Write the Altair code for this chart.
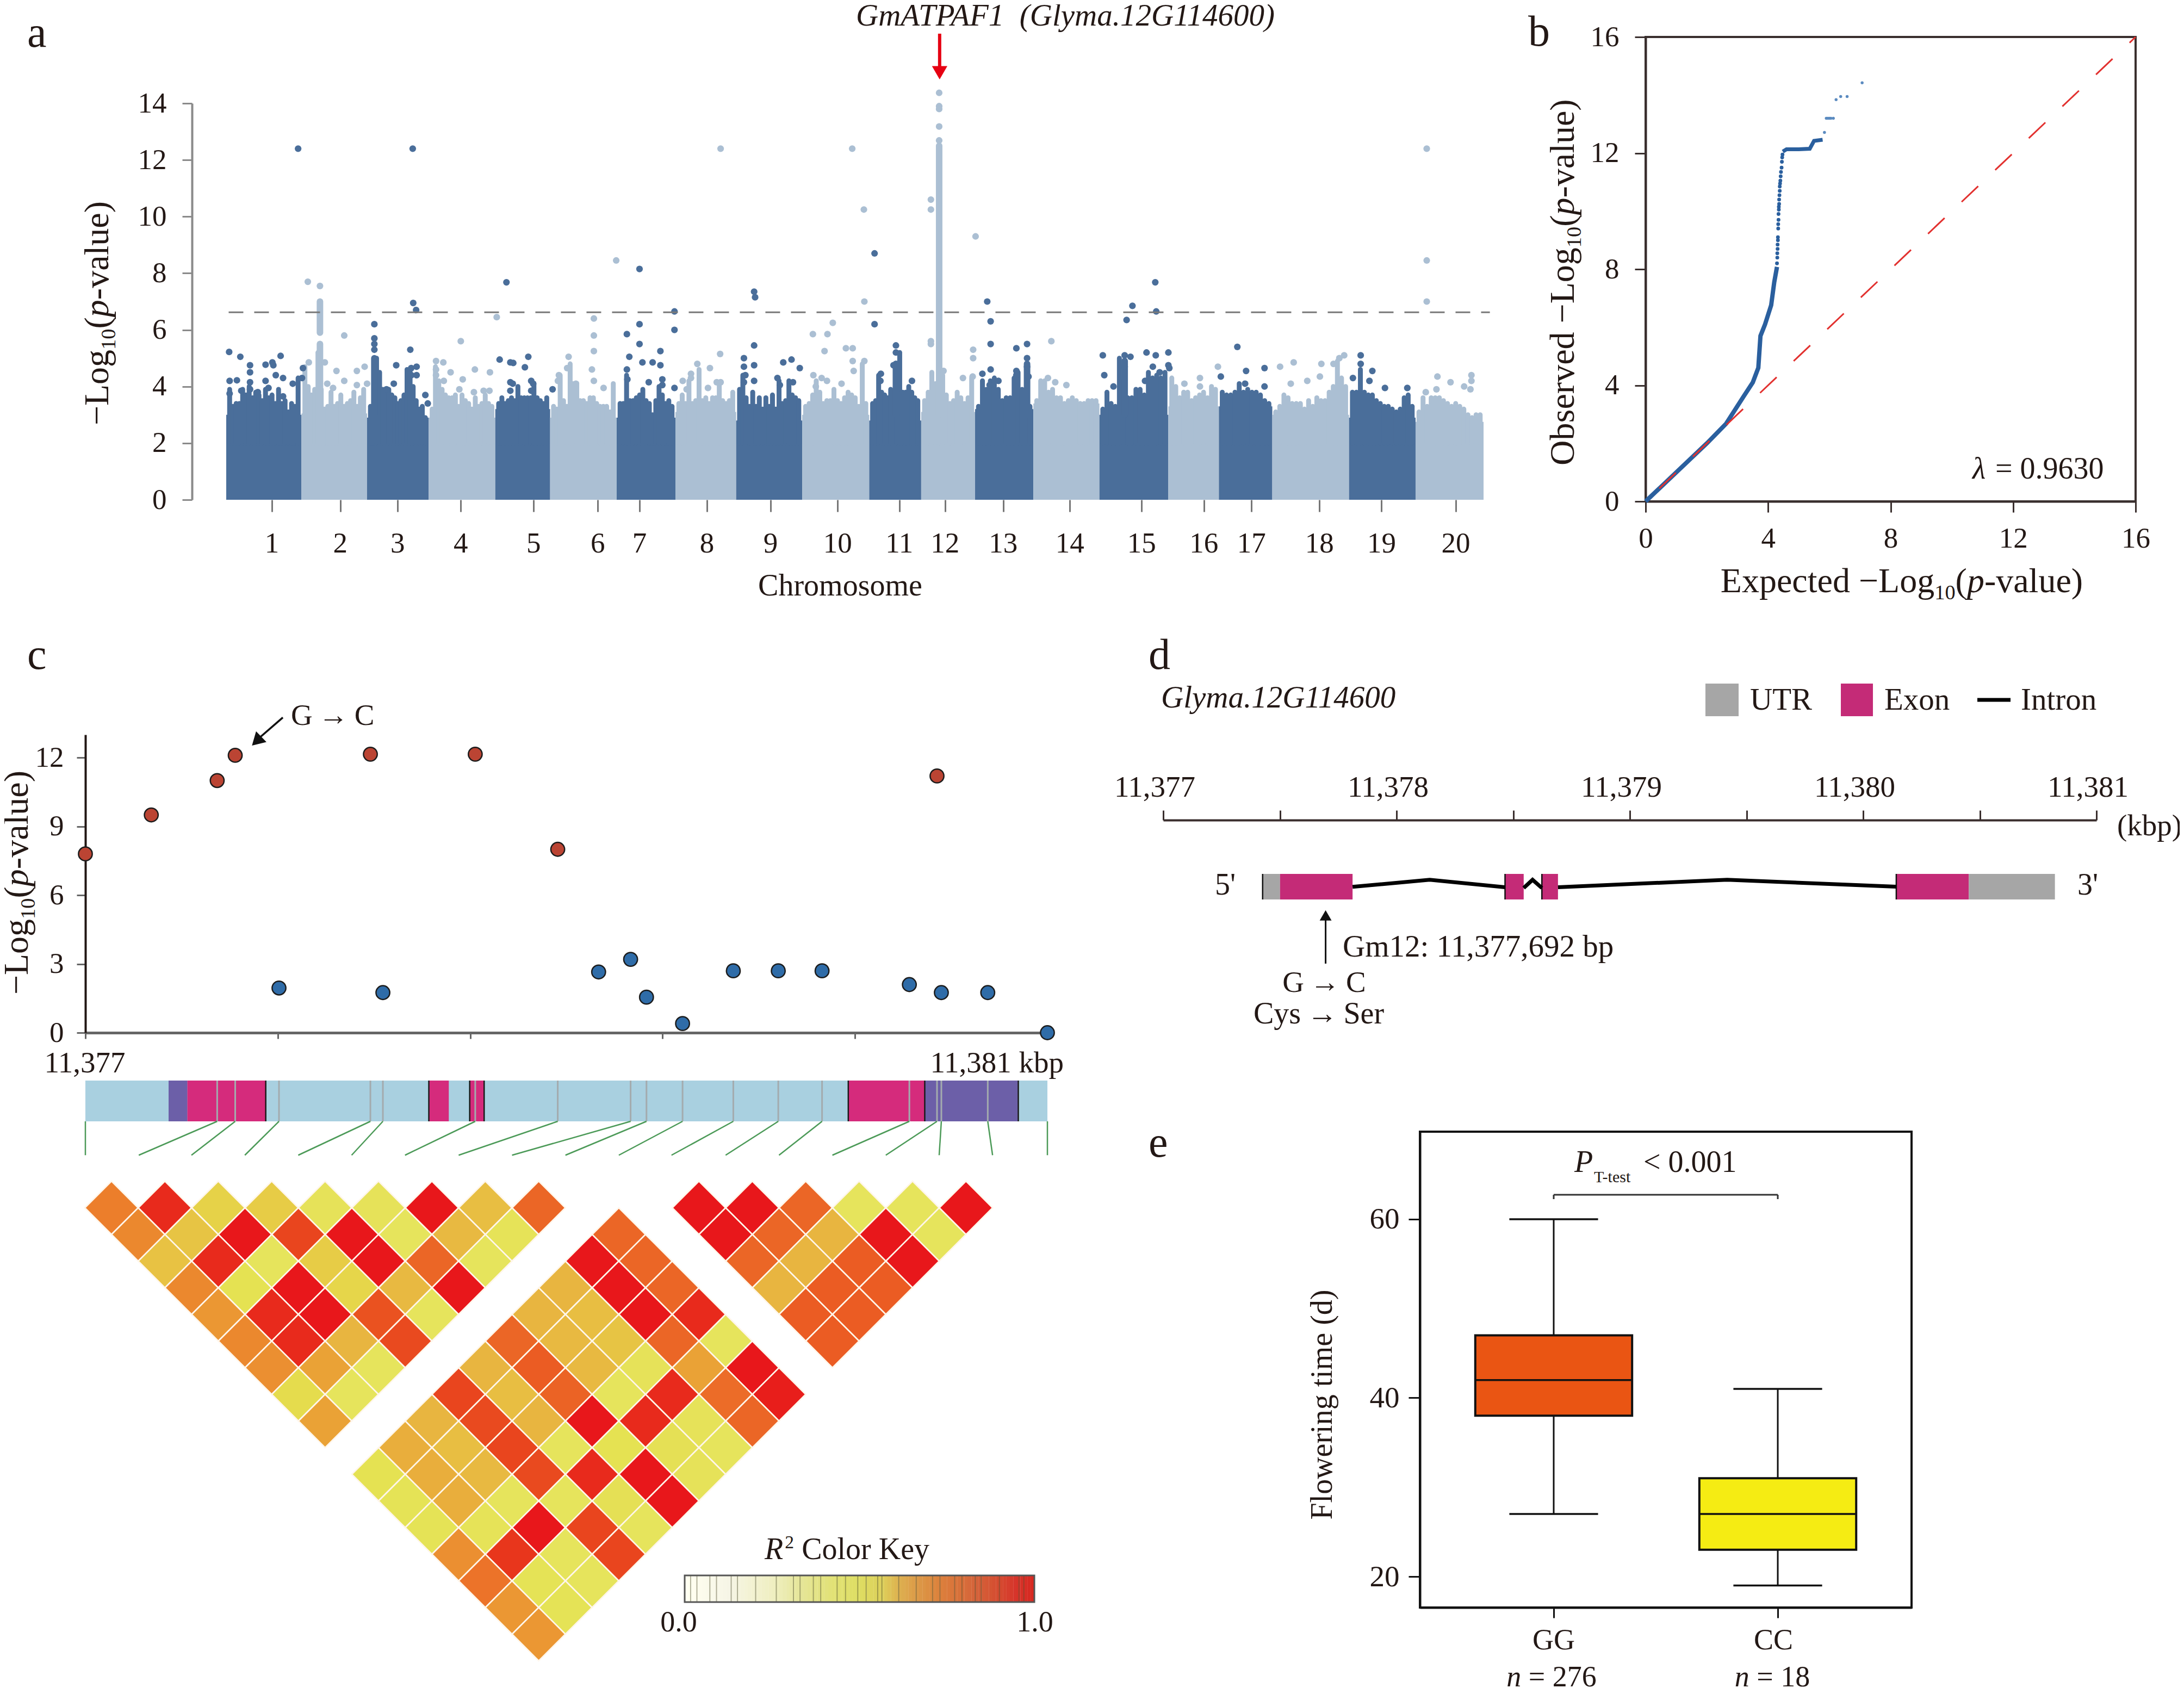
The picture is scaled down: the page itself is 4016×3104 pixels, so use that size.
import altair as alt
import numpy as np
import pandas as pd

W, H = 4000, 3096
SERIF = "Liberation Serif"
INK = "#231815"
DARK, LIGHT = "#4A6E9A", "#ABBFD3"

# ---------- panel a: Manhattan ----------
chrom_bounds = [320, 475, 610, 737, 874, 987, 1124, 1245, 1370, 1506, 1644, 1751,
                1862, 1982, 2118, 2260, 2364, 2474, 2632, 2769, 2909]
chrom_ticks = [414, 555, 673, 803, 953, 1085, 1171, 1310, 1441, 1579, 1706, 1800,
               1920, 2057, 2205, 2333, 2431, 2571, 2699, 2852]
chrom_labels = [str(i) for i in range(1, 21)]
chrom_solid = [3.0, 3.05, 2.9, 2.9, 3.2, 2.9, 2.9, 3.1, 2.8, 3.0, 2.8, 3.1, 3.2, 3.4, 3.0, 3.3, 3.3, 3.0, 2.9, 2.75]
chrom_tops = [
    [3.9, 3.3, 3.4, 3.4, 3.9, 3.7, 4.0, 3.6, 3.8, 3.7, 3.5, 3.9, 3.6, 3.7, 3.4, 3.9, 3.4, 3.5, 3.1, 3.4, 3.3, 4.3],
    [4.7, 4.0, 3.7, 3.9, 5.2, 3.9, 3.2, 3.3, 3.8, 3.3, 3.4, 3.7, 3.3, 3.4, 3.5, 3.8, 3.3, 3.6, 3.9],
    [3.3, 3.3, 5.0, 4.5, 3.9, 3.8, 3.9, 3.7, 3.6, 3.4, 3.5, 3.7, 4.6, 4.6, 4.0, 3.5, 3.2, 3.3, 2.9],
    [3.2, 4.7, 4.2, 3.9, 3.7, 3.6, 3.6, 3.7, 3.3, 3.7, 3.5, 3.4, 3.2, 3.6, 3.3, 3.4, 3.7, 3.4, 3.3],
    [3.4, 3.6, 3.4, 3.5, 3.6, 3.5, 4.0, 3.6, 3.6, 3.6, 3.6, 4.1, 3.6, 3.5, 3.4, 3.6],
    [3.3, 3.2, 4.4, 3.5, 3.3, 4.8, 4.1, 4.1, 3.5, 3.5, 3.4, 3.6, 3.6, 3.4, 3.3, 3.3, 3.3, 3.1, 4.1],
    [3.4, 3.4, 4.4, 3.5, 3.5, 3.6, 3.7, 3.9, 3.5, 3.4, 3.0, 3.5, 4.0, 3.7, 3.4, 3.5, 3.3],
    [3.4, 3.7, 3.4, 4.2, 3.4, 3.5, 4.6, 3.5, 3.6, 3.4, 3.6, 3.6, 4.1, 3.5, 3.4, 3.5, 3.8],
    [3.9, 4.4, 3.6, 3.3, 3.8, 3.3, 3.6, 3.2, 3.6, 3.3, 3.7, 3.2, 4.2, 3.4, 3.5, 4.2, 3.7, 3.6, 3.5],
    [3.3, 3.4, 3.7, 4.2, 3.8, 3.4, 3.5, 3.5, 3.9, 3.5, 3.4, 3.6, 3.8, 3.7, 3.6, 3.3, 4.8, 3.4],
    [3.4, 3.5, 4.4, 3.8, 3.7, 3.6, 3.9, 3.7, 4.0, 5.2, 3.8, 3.8, 4.0, 3.8, 3.6, 3.5],
    [3.5, 3.8, 4.5, 4.1, 5.0, 4.4, 3.7, 3.4, 3.5, 3.8, 3.6, 3.4, 3.6, 4.3],
    [3.3, 4.2, 3.9, 4.2, 4.3, 3.9, 3.5, 3.6, 3.6, 4.3, 4.5, 3.9, 3.6, 3.3],
    [3.5, 4.2, 4.2, 3.8, 3.9, 3.6, 3.6, 3.4, 3.5, 3.6, 3.5, 3.4, 3.4, 3.5, 3.5, 3.5],
    [3.2, 3.8, 3.4, 3.3, 5.0, 4.2, 3.6, 3.6, 3.9, 3.9, 3.7, 4.5, 4.3, 4.4, 4.3, 4.5],
    [4.3, 4.0, 3.6, 3.8, 3.8, 3.5, 3.6, 3.7, 3.8, 3.6, 4.0, 3.9],
    [3.8, 3.7, 3.7, 3.8, 4.1, 3.8, 3.9, 3.8, 3.8, 3.7, 3.5, 3.4],
    [3.1, 3.3, 3.7, 3.6, 3.4, 3.4, 3.4, 3.2, 3.5, 3.3, 3.6, 3.5, 3.5, 3.8, 4.0, 4.9, 4.3, 4.0],
    [3.8, 3.8, 4.6, 3.8, 3.7, 3.7, 3.5, 3.4, 3.3, 3.3, 3.2, 3.1, 3.2, 3.6, 3.7, 3.3],
    [3.1, 3.6, 3.3, 3.6, 3.6, 3.6, 3.5, 3.4, 3.3, 3.4, 3.3, 3.2, 3.0, 2.9, 3.0, 3.0],
]
col_pos = [513, 513, 1788, 625, 2170, 1699, 1969]
col_lo = [5.9, 3.0, 3.0, 3.0, 3.0, 3.0, 3.0]
col_hi = [7.0, 5.5, 12.5, 5.0, 4.9, 4.8, 4.8]
col_shade = ["l", "l", "l", "d", "d", "d", "d"]
dark_pos = [468, 704, 705, 711, 625, 625, 625, 625, 699, 897, 1171, 1171, 1145, 1171, 1150, 1214, 1243, 1243, 1407, 1409, 1407,
            1655, 1655, 1887, 1894, 1894, 2125, 2186, 2174, 2233, 2235, 2215, 2234, 2260, 2260, 2402, 2656,
            326, 349, 327, 342, 327, 351, 369, 369, 369, 369, 401, 415, 417, 432, 401, 407, 422, 437, 457, 478, 476, 385, 437,
            670, 701, 712, 701, 712, 730, 735, 665, 650,
            883, 905, 911, 935, 942, 905, 910, 948, 952, 905, 948, 992,
            1145, 1177, 1198, 1214, 1146, 1190, 1218, 1218, 1243,
            1386, 1386, 1389, 1407, 1407, 1386, 1467, 1484, 1501, 1455, 1487, 1460,
            1699, 1699, 1694, 1668, 1667, 1732,
            1947, 1969, 1969, 1969, 1947, 1947, 1894, 1877, 1910, 1892, 1972,
            2128, 2147, 2170, 2170, 2182, 2228, 2262, 2242, 2212,
            2458, 2420, 2368, 2418, 2458, 2656, 2680, 2674, 2640, 2706, 2752]
dark_val = [12.4, 12.4, 6.95, 6.7, 6.2, 5.7, 5.5, 5.3, 5.3, 7.68, 8.15, 6.2, 5.85, 5.5, 5.05, 5.25, 6.65, 6.0, 7.35, 7.15, 5.45,
            8.7, 6.2, 7.0, 6.3, 5.5, 5.1, 6.85, 6.35, 7.68, 6.65, 5.2, 5.1, 5.2, 4.75, 5.4, 5.1,
            5.22, 5.05, 4.2, 4.22, 3.75, 3.85, 4.75, 4.5, 4.15, 3.9, 4.77, 4.85, 4.75, 5.08, 4.2, 3.95, 4.4, 4.3, 4.1, 4.65, 4.3, 3.8, 3.65,
            4.75, 4.65, 4.7, 4.4, 4.4, 3.7, 3.4, 4.1, 3.9,
            4.95, 4.85, 4.83, 4.68, 5.05, 4.15, 4.1, 4.2, 4.1, 3.85, 3.85, 3.9,
            4.6, 4.85, 4.85, 4.75, 4.25, 4.15, 4.25, 4.05, 3.95,
            5.0, 4.7, 4.4, 4.75, 4.2, 4.15, 4.85, 4.95, 4.65, 4.3, 4.15, 4.05,
            5.45, 5.2, 4.75, 4.45, 4.2, 4.2,
            5.35, 5.5, 5.0, 4.7, 4.55, 4.4, 4.6, 4.45, 4.2, 4.05, 4.35,
            4.4, 4.0, 5.1, 4.7, 5.05, 4.7, 4.65, 4.5, 4.2,
            4.65, 4.55, 4.35, 4.1, 4.0, 4.8, 4.55, 4.2, 4.3, 3.95, 3.95]
light_pos = [488, 513, 563, 1338, 877, 803, 1077, 1077, 1077, 1123, 1337, 1609, 1633, 1634, 1569, 1528, 1558, 1552, 1596, 1610,
             1788, 1788, 1788, 1788, 1788, 1771, 1771, 1771, 1771, 1863, 1858, 1858, 2019, 2792, 2792, 2792,
             547, 528, 540, 563, 589, 605, 589, 610, 490, 523,
             752, 767, 752, 752, 782, 768, 807, 832, 863, 800, 830, 850, 862,
             1025, 1005, 1022, 1073, 1077, 1097, 1003, 1040,
             1290, 1316, 1277, 1277, 1260, 1330, 1338, 1268, 1312,
             1529, 1546, 1557, 1587, 1534, 1612, 1610, 1634,
             1797, 1837, 1857, 2012, 2027, 2050, 2293, 2325, 2325, 2362,
             2490, 2518, 2575, 2600, 2612, 2622, 2572, 2546, 2512,
             2814, 2884, 2884, 2841, 2869, 2882, 2812, 2790]
light_val = [7.7, 7.55, 5.8, 12.4, 6.45, 5.6, 6.4, 5.8, 5.25, 8.45, 5.15, 12.4, 10.25, 7.0, 6.25, 5.85, 5.85, 5.25, 5.35, 5.35,
             14.37, 13.9, 13.8, 13.18, 12.69, 10.6, 10.25, 5.6, 5.5, 9.3, 5.3, 5.0, 5.6, 12.4, 8.45, 7.0,
             4.55, 4.1, 3.95, 4.2, 4.55, 4.7, 4.05, 4.1, 4.85, 4.85,
             4.9, 4.85, 4.6, 4.4, 4.5, 4.2, 4.25, 4.6, 4.5, 3.9, 3.8, 3.85, 3.85,
             5.05, 4.4, 4.65, 4.6, 4.2, 3.95, 4.2, 4.1,
             4.8, 4.65, 4.45, 4.3, 4.2, 4.15, 4.15, 3.9, 3.95,
             4.4, 4.3, 4.2, 4.1, 4.0, 4.55, 4.9, 4.9,
             4.55, 4.3, 4.35, 4.3, 4.15, 4.05, 4.1, 4.3, 4.0, 4.7,
             4.7, 4.85, 4.8, 4.8, 5.0, 5.1, 4.35, 4.2, 4.1,
             4.35, 4.4, 4.2, 4.15, 4.0, 3.9, 3.9, 3.8]

# ---------- panel b: QQ ----------
qq_low_x = [0, 0.5, 1, 1.5, 2, 2.63, 3.19, 3.5, 3.68, 3.75, 3.9, 4.1, 4.2, 4.29]
qq_low_y = [0, 0.5, 1, 1.5, 2, 2.68, 3.6, 4.1, 4.6, 5.7, 6.1, 6.76, 7.55, 8.08]
qq_high_x = [4.48, 4.6, 5.0, 5.36, 5.5, 5.78]
qq_high_y = [12.05, 12.13, 12.13, 12.15, 12.42, 12.46]
qq_mid_x = [4.29, 4.30, 4.30, 4.31, 4.31, 4.32, 4.32, 4.33, 4.33, 4.34, 4.34, 4.35, 4.35, 4.36, 4.36, 4.37, 4.38, 4.38, 4.39, 4.4, 4.41, 4.42, 4.44, 4.45, 4.46, 4.47]
qq_mid_y = [8.2, 8.4, 8.55, 8.7, 8.85, 9.0, 9.1, 9.4, 9.55, 9.7, 9.9, 10.05, 10.15, 10.25, 10.4, 10.55, 10.7, 10.85, 10.95, 11.05, 11.2, 11.35, 11.5, 11.7, 11.85, 11.95]
qq_top_x = [5.84, 5.9, 5.95, 6.0, 6.05, 6.13, 6.22, 6.37, 6.58, 7.07]
qq_top_y = [12.71, 13.2, 13.2, 13.2, 13.2, 13.2, 13.84, 13.95, 13.95, 14.42]

# ---------- panel c ----------
snp_red_x = [0, 0.274, 0.548, 0.623, 1.185, 1.621, 1.964, 3.541]
snp_red_y = [7.8, 9.5, 11.0, 12.1, 12.15, 12.15, 8.0, 11.2]
snp_blue_x = [0.805, 1.237, 2.134, 2.267, 2.333, 2.483, 2.694, 2.881, 3.063, 3.426, 3.559, 3.752, 4.0]
snp_blue_y = [1.95, 1.75, 2.65, 3.2, 1.55, 0.4, 2.7, 2.7, 2.7, 2.1, 1.75, 1.75, 0.0]
seg_start = [0.346, 0.424, 1.428, 1.598, 3.172, 3.490]
seg_end = [0.424, 0.750, 1.511, 1.658, 3.490, 3.879]
seg_kind = ["p", "m", "m", "m", "m", "p"]
seg_edges = [0.750, 1.428, 1.598, 1.658, 3.172, 3.490, 3.879]
snp_lines = [0.548, 0.623, 0.805, 1.185, 1.237, 1.621, 1.964, 2.267, 2.333, 2.483, 2.694, 2.881, 3.063, 3.426, 3.541, 3.559, 3.752]
link_top = [0, 0.548, 0.623, 0.805, 1.185, 1.237, 1.621, 1.964, 2.267, 2.333, 2.483, 2.694, 2.881, 3.063, 3.426, 3.541, 3.559, 3.752, 4.0]
link_bottom = [0, 0.222, 0.441, 0.663, 0.885, 1.107, 1.329, 1.552, 1.774, 1.996, 2.218, 2.437, 2.662, 2.884, 3.106, 3.328, 3.550, 3.772, 4.0]

ld_tri1 = [
    [.65, .93, .35, .38, .22, .22, 1.0, .45, .72],
    [.62, .42, 1.0, .82, 1.0, .2, .48, .18],
    [.43, .93, .2, .38, 1.0, .72, .2],
    [.62, .15, 1.0, .33, .48, 1.0],
    [.58, .93, 1.0, .78, .2],
    [.62, .93, .5, .8],
    [.6, .55, .2],
    [.3, .2],
    [.55],
]
ld_tri3 = [
    [1.0, 1.0, .72, .2, .2, 1.0],
    [1.0, .72, .5, 1.0, .2],
    [.72, .5, .75, 1.0],
    [.5, .75, .75],
    [.75, .75],
    [.75],
]
ld_tri2 = [
    [.72], [1.0, .72], [.5, 1.0, .72], [.5, .45, 1.0, .93], [.72, .48, .42, .72, .2],
    [.5, .75, .48, .22, .55, 1.0], [.82, .45, .73, .2, .93, .7, .98],
    [.5, .8, .5, 1.0, .93, .22, .72], [.52, .45, .82, .2, .15, .25, .2],
    [.15, .52, .48, .8, .93, 1.0, .22], [.17, .52, .2, .2, .25, 1.0],
    [.17, .18, 1.0, .82, .2], [.6, .88, .2, .82], [.68, .17, .2], [.58, .17], [.58],
]
ld_dom = [.15, .2, .3, .4, .5, .6, .7, .8, .9, 1.0]
ld_col = ["#E5E252", "#E6E45C", "#E5DC4D", "#E7C845", "#E8B540", "#EB8F31", "#EC6C28", "#E94A1F", "#E8301C", "#E8171B"]
key_dom = [0, .12, .25, .33, .41, .49, .56, .61, .66, .73, .83, .94, 1]
key_col = ["#FFFFFF", "#F6F5E6", "#EFEFC0", "#E5E597", "#E2E278", "#DEDE63", "#DDD05A", "#DDAF50", "#DC9A48", "#DC7F3C", "#D4623A", "#D6352B", "#D8261F"]
key_lines = [.017, .035, .072, .091, .133, .151, .203, .262, .311, .33, .368, .389, .436, .46, .495, .519, .552, .564, .612, .662, .709, .73, .772, .793, .831, .848, .9, .956, .97]

# ---------- panel d ----------
gene_start = [0.426, 0.5007, 1.465, 1.623, 3.142, 3.453]
gene_end = [0.5007, 0.8115, 1.545, 1.692, 3.453, 3.822]
gene_kind = ["u", "e", "e", "e", "e", "u"]
intron_x = [[0.8115, 1.142, 1.465], [1.545, 1.583, 1.623], [1.692, 2.417, 3.142]]
intron_y = [[0.495, 0.77, 0.48], [0.45, 0.77, 0.45], [0.48, 0.77, 0.5]]

# ---------- panel e ----------
box_x = [1, 2]
box_low = [27, 19]
box_q1 = [38, 23]
box_med = [42, 27]
box_q3 = [47, 31]
box_high = [60, 41]
box_col = ["#EA5513", "#F5EC13"]

# ---------- helpers ----------
def sc(dom, a, b):
    return alt.Scale(domain=dom, range=[a - 8, b - 8], nice=False, zero=False)

def X(f, s, axis=None):
    return alt.X(f, type="quantitative", scale=s, axis=axis, title=None)

def Y(f, s, axis=None):
    return alt.Y(f, type="quantitative", scale=s, axis=axis, title=None)

def axis_left(px, **kw):
    d = dict(orient="left", offset=-(px - 8), grid=False, title=None, labelFont=SERIF, labelColor=INK, labelFontSize=53, labelFlush=False)
    d.update(kw)
    return alt.Axis(**d)

def axis_bottom(py, **kw):
    d = dict(orient="bottom", offset=(py - 8) - H, grid=False, title=None, labelFont=SERIF, labelColor=INK, labelFontSize=53, labelFlush=False)
    d.update(kw)
    return alt.Axis(**d)

PAGE_X = alt.Scale(domain=[8, W + 8], range=[0, W], nice=False, zero=False)
PAGE_Y = alt.Scale(domain=[8, H + 8], range=[0, H], nice=False, zero=False)
CW = {'−': .564, 'L': .611, 'o': .5, 'g': .5, '(': .333, ')': .333, 'p': .5, '-': .333, 'v': .5, 'a': .444, 'l': .278, 'u': .5,
      'e': .444, ' ': .25, 'O': .722, 'b': .5, 's': .389, 'r': .333, 'd': .5, 'E': .611, 'x': .5, 'c': .444, 't': .278,
      'F': .556, 'w': .722, 'i': .278, 'n': .5, 'm': .778, '=': .564, '<': .564, '.': .25, ',': .25, 'P': .556, 'T': .611,
      'R': .667, 'C': .667, 'K': .722, 'y': .5, 'h': .5, '\u00a0': .25, '\u2009': .2, 'G': .722, 'A': .722, ':': .278,
      'U': .722, 'S': .556, '→': 1.0}
texts = {}
NB = "\u00a0"
TH = "\u2009"

def width(s, size):
    return sum(CW.get(c, .5) for c in s) * size

def rich(x, y, runs, size, angle=0, align="left"):
    """Place a line of mixed-style runs; (x, y) is the line's vertical centre."""
    parts = []
    total = 0
    for s, st in runs:
        fs = size * (.6 if st in ("sub", "sup") else 1)
        w = width(s, fs)
        parts.append((s, st, fs, w))
        total += w
    start = -total / 2 if align == "center" else (-total if align == "right" else 0)
    pos = start
    for s, st, fs, w in parts:
        shift = .3 * size + (.2 * size if st == "sub" else (-.36 * size if st == "sup" else 0))
        lead = width(s[:len(s) - len(s.lstrip(NB))], fs)
        body_s = s.lstrip(NB)
        if angle == 0:
            px, py = x + pos + lead, y + shift
        else:
            px, py = x + shift, y - pos - lead
        key = (st == "i", angle)
        texts.setdefault(key, []).append(dict(x=px, y=py, text=body_s, size=fs))
        pos += w

layers = []

# ---------- build panel a ----------
AX = sc([320, 2909], 416, 2728)
AY = sc([0, 14], 919, 190)
shade = alt.Color("shade:N", scale=alt.Scale(domain=["d", "l"], range=[DARK, LIGHT]), legend=None)
body = pd.DataFrame(dict(x=chrom_bounds[:-1], x2=chrom_bounds[1:], y=chrom_solid,
                         shade=["d" if i % 2 == 0 else "l" for i in range(20)]))
layers.append(alt.Chart(body).mark_rect().encode(
    x=X("x", AX, axis_bottom(919, values=chrom_ticks, labels=False, domain=False, tickColor="#777777", tickWidth=3, tickSize=22)),
    x2=alt.X2("x2"),
    y=Y("y", AY, axis_left(353, values=list(range(0, 15, 2)), domainColor="#8a8a8a", domainWidth=4, tickColor="#8a8a8a", tickWidth=3, tickSize=18, labelPadding=29)),
    y2=alt.datum(0), color=shade))
st_rows = []
for i, tops in enumerate(chrom_tops):
    ps = np.linspace(chrom_bounds[i] + 7, chrom_bounds[i + 1] - 7, len(tops))
    for p, t in zip(ps, tops):
        st_rows.append(dict(x=float(p), y=2.0, y2=t, shade="d" if i % 2 == 0 else "l"))
layers.append(alt.Chart(pd.DataFrame(st_rows)).mark_rule(strokeWidth=9, strokeCap="round").encode(
    x=X("x", AX), y=Y("y", AY), y2=alt.Y2("y2"), color=shade))
col_df = pd.DataFrame(dict(x=col_pos, y=col_lo, y2=col_hi, shade=col_shade))
layers.append(alt.Chart(col_df).mark_rule(strokeWidth=12, strokeCap="round").encode(
    x=X("x", AX), y=Y("y", AY), y2=alt.Y2("y2"), color=shade))
dots = pd.DataFrame(dict(x=dark_pos + light_pos, y=dark_val + light_val,
                         shade=["d"] * len(dark_pos) + ["l"] * len(light_pos)))
layers.append(alt.Chart(dots).mark_point(filled=True, size=150, opacity=1, shape="circle").encode(
    x=X("x", AX), y=Y("y", AY), color=shade))
layers.append(alt.Chart(pd.DataFrame(dict(x=[325], x2=[2922], y=[6.62]))).mark_rule(
    color="#7a7a7a", strokeWidth=3, strokeDash=[27, 20]).encode(x=X("x", AX), x2=alt.X2("x2"), y=Y("y", AY)))
layers.append(alt.Chart(pd.DataFrame(dict(x=[1789], y=[16.46], y2=[15.2]))).mark_rule(color="#E60012", strokeWidth=6).encode(
    x=X("x", AX), y=Y("y", AY), y2=alt.Y2("y2")))
layers.append(alt.Chart(pd.DataFrame(dict(x=[1789], y=[15.08]))).mark_point(
    shape="triangle-down", filled=True, fill="#E60012", size=800, opacity=1).encode(x=X("x", AX), y=Y("y", AY)))
layers.append(alt.Chart(pd.DataFrame(dict(x=chrom_ticks, y=[-1.56] * 20, t=chrom_labels))).mark_text(
    font=SERIF, fontSize=53, color=INK, align="center", baseline="middle").encode(x=X("x", AX), y=Y("y", AY), text="t:N"))

# ---------- build panel b ----------
BX = sc([0, 16], 3026, 3927)
BY = sc([0, 16], 922, 68)
layers.append(alt.Chart(pd.DataFrame(dict(x=[0], x2=[16], y=[0], y2=[16]))).mark_rect(
    fillOpacity=0, stroke="#3a2f2e", strokeWidth=4).encode(
    x=X("x", BX, axis_bottom(922, values=[0, 4, 8, 12, 16], format="d", domainColor="#3a2f2e", domainWidth=4, tickColor="#3a2f2e", tickWidth=3, tickSize=20, labelPadding=22)),
    x2=alt.X2("x2"),
    y=Y("y", BY, axis_left(3026, values=[0, 4, 8, 12, 16], format="d", domainColor="#3a2f2e", domainWidth=4, tickColor="#3a2f2e", tickWidth=3, tickSize=20, labelPadding=29)),
    y2=alt.Y2("y2")))
layers.append(alt.Chart(pd.DataFrame(dict(x=qq_low_x, y=qq_low_y))).mark_line(color="#2A5F9E", strokeWidth=8).encode(x=X("x", BX), y=Y("y", BY)))
layers.append(alt.Chart(pd.DataFrame(dict(x=qq_high_x, y=qq_high_y))).mark_line(color="#2A5F9E", strokeWidth=7).encode(x=X("x", BX), y=Y("y", BY)))
layers.append(alt.Chart(pd.DataFrame(dict(x=qq_mid_x, y=qq_mid_y))).mark_point(filled=True, fill="#2A5F9E", size=48, opacity=1).encode(x=X("x", BX), y=Y("y", BY)))
layers.append(alt.Chart(pd.DataFrame(dict(x=qq_top_x, y=qq_top_y))).mark_point(filled=True, fill="#5B8BC0", size=30, opacity=1).encode(x=X("x", BX), y=Y("y", BY)))
layers.append(alt.Chart(pd.DataFrame(dict(x=[0, 16], y=[0, 16]))).mark_line(
    color="#E2312F", strokeWidth=3, strokeDash=[42, 43.1], strokeDashOffset=50.4).encode(x=X("x", BX), y=Y("y", BY)))

# ---------- build panel c ----------
CX = sc([11377, 11381], 157, 1926)
CY = sc([0, 13], 1899, 1351)
kb = lambda a: [11377 + v for v in a]
layers.append(alt.Chart(pd.DataFrame(dict(x=kb(snp_red_x), y=snp_red_y))).mark_point(
    filled=True, fill="#BB4433", stroke="#1c1c1c", strokeWidth=2.5, size=640, opacity=1).encode(
    x=X("x", CX, axis_bottom(1899, values=[11377 + .8 * i for i in range(6)], labels=False, domainColor="#666666", domainWidth=5, tickColor="#666666", tickWidth=3, tickSize=11)),
    y=Y("y", CY, axis_left(157, values=[0, 3, 6, 9, 12], domainColor="#221714", domainWidth=4, tickColor="#666666", tickWidth=3, tickSize=16, labelPadding=24))))
layers.append(alt.Chart(pd.DataFrame(dict(x=kb(snp_blue_x), y=snp_blue_y))).mark_point(
    filled=True, fill="#2F6CA8", stroke="#1c1c1c", strokeWidth=2.5, size=640, opacity=1).encode(x=X("x", CX), y=Y("y", CY)))
layers.append(alt.Chart(pd.DataFrame(dict(x=[11377 + .821], x2=[11377 + .70], y=[13.75], y2=[12.65]))).mark_rule(color="#111111", strokeWidth=3.5).encode(
    x=X("x", CX), x2=alt.X2("x2"), y=Y("y", CY), y2=alt.Y2("y2")))
layers.append(alt.Chart(pd.DataFrame(dict(x=[11377 + .712], y=[12.72]))).mark_point(
    shape="triangle-up", filled=True, fill="#111111", size=750, opacity=1, angle=226).encode(x=X("x", CX), y=Y("y", CY)))

TY = sc([0, 1], 2062, 1987)
layers.append(alt.Chart(pd.DataFrame(dict(x=[11377], x2=[11381], y=[0], y2=[1]))).mark_rect(color="#A9D0E0").encode(
    x=X("x", CX), x2=alt.X2("x2"), y=Y("y", TY), y2=alt.Y2("y2")))
layers.append(alt.Chart(pd.DataFrame(dict(x=kb(seg_start), x2=kb(seg_end), k=seg_kind, y=[0] * 6, y2=[1] * 6))).mark_rect().encode(
    x=X("x", CX), x2=alt.X2("x2"), y=Y("y", TY), y2=alt.Y2("y2"),
    color=alt.Color("k:N", scale=alt.Scale(domain=["m", "p"], range=["#D52B7C", "#6C5FA8"]), legend=None)))
layers.append(alt.Chart(pd.DataFrame(dict(x=kb(snp_lines), y=[0] * 17, y2=[1] * 17))).mark_rule(color="#A3ABAE", strokeWidth=3).encode(
    x=X("x", CX), y=Y("y", TY), y2=alt.Y2("y2")))
layers.append(alt.Chart(pd.DataFrame(dict(x=kb(seg_edges), y=[0] * 7, y2=[1] * 7))).mark_rule(color="#1a1a1a", strokeWidth=2.5).encode(
    x=X("x", CX), y=Y("y", TY), y2=alt.Y2("y2")))
layers.append(alt.Chart(pd.DataFrame(dict(x=kb(link_top), x2=kb(link_bottom), y=[0] * 19, y2=[-.83] * 19))).mark_rule(color="#4C9A58", strokeWidth=2.5).encode(
    x=X("x", CX), x2=alt.X2("x2"), y=Y("y", TY), y2=alt.Y2("y2")))

ld_rows = []
for r, row in enumerate(ld_tri1):
    for c, v in enumerate(row):
        ld_rows.append(dict(u=2 * c + r, v=r, r2=v))
for r, row in enumerate(ld_tri3):
    for c, v in enumerate(row):
        ld_rows.append(dict(u=22 + 2 * c + r, v=r, r2=v))
for s, row in enumerate(ld_tri2):
    left = -s if s <= 9 else -9 + (s - 9)
    for c, v in enumerate(row):
        ld_rows.append(dict(u=19 + left + 2 * c, v=1 + s, r2=v))
LX = sc([0, 50], 205, 205 + 50 * 49.1)
LY = sc([0, 20], 2221, 2221 + 20 * 49)
layers.append(alt.Chart(pd.DataFrame(ld_rows)).mark_point(
    shape="diamond", filled=True, size=9604, opacity=1, stroke="#FFF6EA", strokeWidth=2.5).encode(
    x=X("u", LX), y=Y("v", LY),
    color=alt.Color("r2:Q", scale=alt.Scale(domain=ld_dom, range=ld_col), legend=None)))

KX = sc([0, 1], 1259, 1902)
KY = sc([0, 1], 2946, 2897)
kv = [i / 100 for i in range(100)]
layers.append(alt.Chart(pd.DataFrame(dict(x=kv, x2=[v + .0105 for v in kv], y=[0] * 100, y2=[1] * 100))).mark_rect().encode(
    x=X("x", KX), x2=alt.X2("x2"), y=Y("y", KY), y2=alt.Y2("y2"),
    color=alt.Color("x:Q", scale=alt.Scale(domain=key_dom, range=key_col), legend=None)))
layers.append(alt.Chart(pd.DataFrame(dict(x=key_lines, y=[0] * len(key_lines), y2=[1] * len(key_lines)))).mark_rule(color="#555533", strokeWidth=2, opacity=.45).encode(
    x=X("x", KX), y=Y("y", KY), y2=alt.Y2("y2")))
layers.append(alt.Chart(pd.DataFrame(dict(x=[0], x2=[1], y=[0], y2=[1]))).mark_rect(fillOpacity=0, stroke="#555555", strokeWidth=3).encode(
    x=X("x", KX), x2=alt.X2("x2"), y=Y("y", KY), y2=alt.Y2("y2")))

# ---------- build panel d ----------
DX = sc([11377, 11381], 2139, 3855)
DY = sc([0, 1], 1654, 1607)
ruler_axis = alt.Axis(orient="top", offset=-(1508 - 8), grid=False, title=None, values=[11377 + .5 * i for i in range(9)],
                      labelFont=SERIF, labelColor=INK, labelFontSize=55, labelPadding=14, labelOffset=-16, labelOverlap=False, labelFlush=False,
                      labelExpr="datum.value % 1 == 0 ? format(datum.value, ',') : ''",
                      domainColor="#3a2f2e", domainWidth=4, tickColor="#3a2f2e", tickWidth=3, tickSize=18)
layers.append(alt.Chart(pd.DataFrame(dict(x=kb(gene_start), x2=kb(gene_end), k=gene_kind, y=[0] * 6, y2=[1] * 6))).mark_rect().encode(
    x=X("x", DX, ruler_axis), x2=alt.X2("x2"), y=Y("y", DY), y2=alt.Y2("y2"),
    color=alt.Color("k:N", scale=alt.Scale(domain=["e", "u"], range=["#C42B77", "#A6A6A6"]), legend=None)))
layers.append(alt.Chart(pd.DataFrame(dict(x=kb([0.426, 1.465, 1.623, 3.142]), y=[0] * 4, y2=[1] * 4))).mark_rule(color="#111111", strokeWidth=2.5).encode(
    x=X("x", DX), y=Y("y", DY), y2=alt.Y2("y2")))
for xs, ys in zip(intron_x, intron_y):
    layers.append(alt.Chart(pd.DataFrame(dict(x=kb(xs), y=ys))).mark_line(color="#000000", strokeWidth=7).encode(x=X("x", DX), y=Y("y", DY)))
layers.append(alt.Chart(pd.DataFrame(dict(x=[11377.696], y=[-2.51], y2=[-.6]))).mark_rule(color="#111111", strokeWidth=3).encode(
    x=X("x", DX), y=Y("y", DY), y2=alt.Y2("y2")))
layers.append(alt.Chart(pd.DataFrame(dict(x=[11377.696], y=[-.62]))).mark_point(
    shape="triangle-up", filled=True, fill="#111111", size=480, opacity=1).encode(x=X("x", DX), y=Y("y", DY)))

leg = pd.DataFrame(dict(x=[3136, 3385], x2=[3197, 3444], y=[1257, 1257], y2=[1317, 1317], c=["#A6A6A6", "#C42B77"]))
layers.append(alt.Chart(leg).mark_rect().encode(
    x=X("x", PAGE_X), x2=alt.X2("x2"), y=Y("y", PAGE_Y), y2=alt.Y2("y2"), color=alt.Color("c:N", scale=None, legend=None)))
layers.append(alt.Chart(pd.DataFrame(dict(x=[3636], x2=[3697], y=[1287]))).mark_rule(color="#000000", strokeWidth=7).encode(
    x=X("x", PAGE_X), x2=alt.X2("x2"), y=Y("y", PAGE_Y)))

# ---------- build panel e ----------
EX = sc([0.403, 2.597], 2611, 3515)
EY = sc([16.53, 69.8], 2956, 2081)
layers.append(alt.Chart(pd.DataFrame(dict(x=[0.403], x2=[2.597], y=[16.53], y2=[69.8]))).mark_rect(
    fillOpacity=0, stroke="#111111", strokeWidth=4).encode(
    x=X("x", EX, axis_bottom(2956, values=[1, 2], labels=False, domainColor="#111111", domainWidth=4, tickColor="#111111", tickWidth=3, tickSize=19)),
    x2=alt.X2("x2"),
    y=Y("y", EY, axis_left(2611, values=[20, 40, 60], domainColor="#111111", domainWidth=4, tickColor="#111111", tickWidth=3, tickSize=21, labelPadding=17, labelFontSize=55)),
    y2=alt.Y2("y2")))
be = pd.DataFrame(dict(x=box_x, low=box_low, q1=box_q1, med=box_med, q3=box_q3, high=box_high, c=box_col,
                       xl=[v - .35 for v in box_x], xr=[v + .35 for v in box_x],
                       cl=[v - .198 for v in box_x], cr=[v + .198 for v in box_x]))
for a, b in (("low", "q1"), ("q3", "high")):
    layers.append(alt.Chart(be).mark_rule(color="#111111", strokeWidth=3).encode(x=X("x", EX), y=Y(a, EY), y2=alt.Y2(b)))
for f in ("low", "high"):
    layers.append(alt.Chart(be).mark_rule(color="#111111", strokeWidth=3.5).encode(x=X("cl", EX), x2=alt.X2("cr"), y=Y(f, EY)))
layers.append(alt.Chart(be).mark_rect(stroke="#111111", strokeWidth=4).encode(
    x=X("xl", EX), x2=alt.X2("xr"), y=Y("q1", EY), y2=alt.Y2("q3"), color=alt.Color("c:N", scale=None, legend=None)))
layers.append(alt.Chart(be).mark_rule(color="#111111", strokeWidth=3.5).encode(x=X("xl", EX), x2=alt.X2("xr"), y=Y("med", EY)))
layers.append(alt.Chart(pd.DataFrame(dict(x=[1], x2=[2], y=[62.74]))).mark_rule(color="#333333", strokeWidth=3).encode(
    x=X("x", EX), x2=alt.X2("x2"), y=Y("y", EY)))
layers.append(alt.Chart(pd.DataFrame(dict(x=[1, 2], y=[62.74, 62.74], y2=[62.25, 62.25]))).mark_rule(color="#333333", strokeWidth=3).encode(
    x=X("x", EX), y=Y("y", EY), y2=alt.Y2("y2")))

# ---------- text ----------
TS = 64
log_runs = [("−Log", "n"), ("10", "sub"), ("(", "n"), ("p", "i"), ("-value)", "n")]
rich(50, 62, [("a", "n")], 80)
rich(2810, 60, [("b", "n")], 80)
rich(50, 1206, [("c", "n")], 80)
rich(2112, 1206, [("d", "n")], 80)
rich(2112, 2103, [("e", "n")], 80)
rich(180, 576, log_runs, TS, angle=270, align="center")
rich(1545, 1078, [("Chromosome", "n")], 56, align="center")
rich(1574, 30, [("GmATPAF1" + NB + NB + "(Glyma.12G114600)", "i")], 57)
rich(2875, 519, [("Observed" + NB, "n")] + log_runs, TS, angle=270, align="center")
rich(3497, 1070, [("Expected" + NB, "n")] + log_runs, TS, align="center")
rich(3627, 863, [("λ", "i"), (NB + "=" + NB + "0.9630", "n")], 56)
rich(32, 1623, log_runs, TS, angle=270, align="center")
rich(535, 1316, [("G" + TH + "→" + TH + "C", "n")], 55)
rich(157, 1955, [("11,377", "n")], 55, align="center")
rich(1958, 1955, [("11,381" + NB + "kbp", "n")], 55, align="right")
rich(1406, 2850, [("R", "i"), ("2", "sup"), (NB + "Color" + NB + "Key", "n")], 56)
rich(1248, 2984, [("0.0", "n")], 54, align="center")
rich(1903, 2984, [("1.0", "n")], 54, align="center")
rich(2135, 1284, [("Glyma.12G114600", "i")], 57)
rich(3218, 1288, [("UTR", "n")], 57)
rich(3465, 1288, [("Exon", "n")], 57)
rich(3716, 1288, [("Intron", "n")], 57)
rich(3893, 1519, [("(kbp)", "n")], 55)
rich(2234, 1628, [("5'", "n")], 56)
rich(3820, 1628, [("3'", "n")], 56)
rich(2469, 1742, [("Gm12:" + NB + "11,377,692" + NB + "bp", "n")], 57)
rich(2435, 1807, [("G" + TH + "→" + TH + "C", "n")], 55, align="center")
rich(2425, 1865, [("Cys" + TH + "→" + TH + "Ser", "n")], 56, align="center")
rich(2432, 2583, [("Flowering time (d)", "n")], 56, angle=270, align="center")
rich(2857, 3017, [("GG", "n")], 54, align="center")
rich(3261, 3017, [("CC", "n")], 54, align="center")
rich(2853, 3085, [("n", "i"), (NB + "=" + NB + "276", "n")], 54, align="center")
rich(3259, 3085, [("n", "i"), (NB + "=" + NB + "18", "n")], 54, align="center")
rich(2895, 2138, [("P", "i")], 56)
rich(2931, 2165, [("T-test", "n")], 30)
rich(3022, 2138, [("<" + NB + "0.001", "n")], 56)

for (ital, ang), items in texts.items():
    kw = dict(font=SERIF, color=INK, align="left", baseline="alphabetic")
    if ital:
        kw["fontStyle"] = "italic"
    if ang:
        kw["angle"] = ang
    layers.append(alt.Chart(pd.DataFrame(items)).mark_text(**kw).encode(
        x=X("x", PAGE_X), y=Y("y", PAGE_Y), text="text:N",
        size=alt.Size("size:Q", scale=None, legend=None)))

chart = alt.layer(*layers).resolve_scale(x="independent", y="independent", color="independent").properties(
    width=W, height=H, padding=0, autosize=alt.AutoSizeParams(type="none"),
    background="#FFFFFF").configure_view(stroke=None)
chart.save("out.html", embed_options={"renderer": "svg", "actions": False})
